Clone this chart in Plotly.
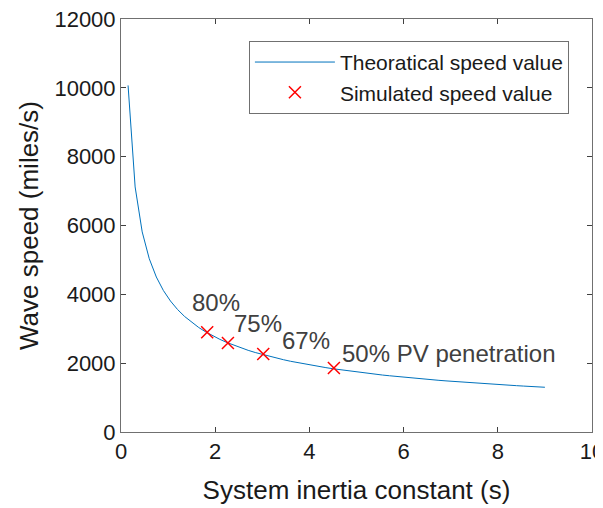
import plotly.graph_objects as go

# Theoretical curve
theory_h = [0.15, 0.30, 0.45, 0.60, 0.75, 0.90, 1.05, 1.20, 1.35, 1.50,
            1.65, 1.80, 1.95, 2.10, 2.25, 2.40, 2.55, 2.70, 2.85, 3.00,
            3.15, 3.30, 3.45, 3.60, 3.75, 3.90, 4.05, 4.20, 4.35, 4.50,
            4.65, 4.80, 4.95, 5.10, 5.25, 5.40, 5.55, 5.70, 5.85, 6.00,
            6.15, 6.30, 6.45, 6.60, 6.75, 6.90, 7.05, 7.20, 7.35, 7.50,
            7.65, 7.80, 7.95, 8.10, 8.25, 8.40, 8.55, 8.70, 8.85, 9.00]
theory_speed = [10070, 7120, 5814, 5035, 4503, 4111, 3806, 3560, 3357, 3184,
                3036, 2907, 2793, 2691, 2600, 2517, 2442, 2373, 2310, 2252,
                2197, 2147, 2100, 2055, 2014, 1975, 1938, 1903, 1870, 1838,
                1809, 1780, 1753, 1727, 1702, 1678, 1655, 1634, 1612, 1592,
                1573, 1554, 1536, 1518, 1501, 1485, 1469, 1453, 1439, 1424,
                1410, 1396, 1383, 1370, 1358, 1346, 1334, 1322, 1311, 1300]

# Simulated points
sim_h = [1.83, 2.27, 3.02, 4.52]
sim_speed = [2900, 2585, 2266, 1860]
sim_labels = ["80%", "75%", "67%", "50% PV penetration"]
label_x = [1.46, 2.36, 3.38, 4.65]
label_y = [3777, 3167, 2673, 2295]

x_ticks = [0, 2, 4, 6, 8, 10]
x_tick_text = ["0", "2", "4", "6", "8", "10"]
y_ticks = [0, 2000, 4000, 6000, 8000, 10000, 12000]
y_tick_text = ["0", "2000", "4000", "6000", "8000", "10000", "12000"]

FONT = "Liberation Sans, Arial, sans-serif"

fig = go.Figure()
fig.add_trace(go.Scatter(
    x=theory_h, y=theory_speed, mode="lines",
    line=dict(color="#0072BD", width=1),
    name="Theoratical speed value"))
fig.add_trace(go.Scatter(
    x=sim_h, y=sim_speed, mode="markers",
    marker=dict(symbol="x-thin-open", size=12, color="#FF0000",
                line=dict(color="#FF0000", width=1.5)),
    name="Simulated speed value"))

for t, lx, ly in zip(sim_labels, label_x, label_y):
    fig.add_annotation(x=lx, y=ly, text=t, showarrow=False,
                       xanchor="left", yanchor="middle",
                       font=dict(family=FONT, size=24, color="#404040"))

axis_common = dict(showline=True, mirror="ticks", linecolor="#707070",
                   linewidth=1, ticks="inside", ticklen=5, tickcolor="#404040",
                   showgrid=False, zeroline=False, automargin=False,
                   ticklabeloverflow="allow",
                   tickfont=dict(family=FONT, size=22, color="#1a1a1a"))

fig.update_xaxes(range=[0, 10], tickvals=x_ticks, ticktext=x_tick_text,
                 title=dict(text="System inertia constant (s)",
                            font=dict(family=FONT, size=26, color="#1a1a1a"),
                            standoff=17),
                 **axis_common)
fig.update_yaxes(range=[0, 12000], tickvals=y_ticks, ticktext=y_tick_text,
                 title=dict(text="Wave speed (miles/s)",
                            font=dict(family=FONT, size=26, color="#1a1a1a"),
                            standoff=8),
                 **axis_common)

fig.update_layout(
    width=595, height=500,
    margin=dict(l=113, r=11, t=11, b=76),
    plot_bgcolor="white", paper_bgcolor="white",
    font=dict(family=FONT),
    legend=dict(x=0.951, y=0.947, xanchor="right", yanchor="top",
                bgcolor="white", bordercolor="#707070", borderwidth=1,
                font=dict(family=FONT, size=21, color="#1a1a1a"),
                tracegroupgap=0, itemwidth=80),
    showlegend=True,
)

fig.write_html("out.html")
